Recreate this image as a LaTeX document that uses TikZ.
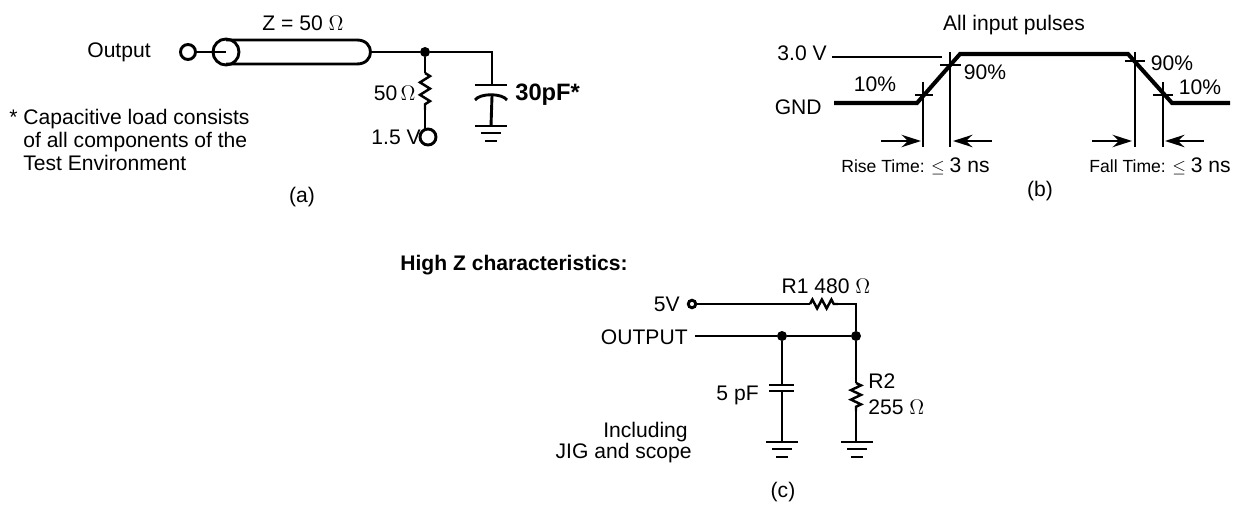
\documentclass[tikz,border=0pt]{standalone}
\usepackage{fontspec}
\setmainfont{Liberation Sans}
\usepackage{amsmath}
\usetikzlibrary{arrows.meta, decorations.pathmorphing}

\tikzset{
  wire/.style={line width=1.65pt},
  pulse/.style={line width=2.3pt},
  thin wire/.style={line width=1.1pt},
  dimarrow/.style={line width=1.5pt, -{Stealth[length=11pt, width=7pt]}},
  dot/.style={circle, fill=black, inner sep=0pt, minimum size=0.2cm},
  terminal/.style={circle, draw, line width=1.65pt, inner sep=0pt, minimum size=0.3cm},
  resistor/.style={line width=1.4pt, decorate, decoration={zigzag, segment length=#1, amplitude=0.1cm}},
  txt/.style={font=\fontsize{12pt}{14pt}\selectfont, inner sep=0pt}
}
\newcommand{\gnd}[1]{%
  \draw[wire] (#1) ++(-16,0) -- ++(32,0);
  \draw[wire] (#1) ++(-10,7) -- ++(20,0);
  \draw[wire] (#1) ++(-6,15) -- ++(12,0);
}

\begin{document}
\begin{tikzpicture}[x=0.02cm, y=-0.02cm]
\useasboundingbox (0,0) rectangle (1243,506);

% (a) output load
\node[terminal] (outa) at (188,52) {};
\node[terminal, minimum size=0.52cm] (cab) at (226,52) {};
\coordinate (cabt) at (226,40);
\coordinate (cabb) at (226,64);
\coordinate (cabtr) at (357,40);
\coordinate (cabbr) at (357,64);
\coordinate (cabr) at (370,52);
\node[dot] (ja) at (425,52) {};
\coordinate (ca) at (492,52);
\coordinate (rat) at (425,73);
\coordinate (rab) at (425,110);
\coordinate (vat) at (425,130);
\node[terminal, minimum size=0.32cm] (va) at (428,137) {};
\coordinate (pla) at (492,85);
\coordinate (plb) at (492,96);
\coordinate (ga) at (491,126);
\draw[wire] (outa) -- (cab.center);
\draw[wire] (cabt) -- (cabtr) .. controls (375,40) and (375,64) .. (cabbr) -- (cabb);
\draw[wire] (cabr) -- (ja) -- (ca) -- (pla);
\draw[wire] (ja) -- (rat);
\draw[resistor=0.25cm] (rat) -- (rab);
\draw[wire] (rab) -- (vat);
\draw[wire] (475,85) -- (507,85);
\draw[wire] (475,100) .. controls (480,93) and (502,93) .. (507,100);
\draw[wire] (plb) -- (ga);
\gnd{ga}
\node[txt] (outt) at (119,52) {Output};
\node[txt] (zt) at (303,23) {Z = 50 $\Omega$};
\node[txt, anchor=east] (rt) at (416,93) {50\,$\Omega$};
\node[txt, anchor=east] (vt) at (421,137) {1.5 V};
\node[txt, anchor=west, font=\fontsize{13.5pt}{15pt}\selectfont\bfseries] (ct) at (515,95) {30pF*};
\node[txt, anchor=west] (n1) at (9,119) {* Capacitive load consists};
\node[txt, anchor=west] (n2) at (23,142) {of all components of the};
\node[txt, anchor=west] (n3) at (23,163) {Test Environment};
\node[txt] (la) at (302,197) {(a)};

% (b) input pulses
\coordinate (p1) at (834,103);
\coordinate (p2) at (917,103);
\coordinate (p3) at (960,54);
\coordinate (p4) at (1128,54);
\coordinate (p5) at (1172,103);
\coordinate (p6) at (1230,103);
\coordinate (h1) at (832,57);
\coordinate (h2) at (942,57);
\draw[pulse] (p1) -- (p2) -- (p3) -- (p4) -- (p5) -- (p6);
\draw[wire] (h1) -- (h2);
\foreach \x/\ya/\name in {923/82/ra, 950/52/rb, 1135/52/fa, 1163/82/fb}{
  \coordinate (\name t) at (\x,\ya);
  \coordinate (\name b) at (\x,147);
  \draw[thin wire] (\name t) -- (\name b);
}
\draw[thin wire] (915,95) -- (933,95);
\draw[thin wire] (940,65) -- (961,65);
\draw[thin wire] (1125,61) -- (1145,61);
\draw[thin wire] (1153,95) -- (1173,95);
\coordinate (a1) at (881,141);
\coordinate (a2) at (921,141);
\coordinate (a3) at (992,141);
\coordinate (a4) at (953,141);
\coordinate (a5) at (1092,141);
\coordinate (a6) at (1132,141);
\coordinate (a7) at (1204,141);
\coordinate (a8) at (1165,141);
\draw[dimarrow] (a1) -- (a2);
\draw[dimarrow] (a3) -- (a4);
\draw[dimarrow] (a5) -- (a6);
\draw[dimarrow] (a7) -- (a8);
\node[txt] (ap) at (1014,25) {All input pulses};
\node[txt, anchor=east] (t3v) at (827,53) {3.0 V};
\node[txt, anchor=east] (tgnd) at (822,107) {GND};
\node[txt] (t10a) at (875,84) {10\%};
\node[txt] (t90a) at (985,72) {90\%};
\node[txt] (t90b) at (1172,63) {90\%};
\node[txt] (t10b) at (1200,87) {10\%};
\node[txt, anchor=west] (rise) at (841,166) {\fontsize{10pt}{12pt}\selectfont Rise Time: $\leq$ \fontsize{12pt}{14pt}\selectfont 3 ns};
\node[txt, anchor=west] (fall) at (1089,166) {\fontsize{10pt}{12pt}\selectfont Fall Time: $\leq$ \fontsize{12pt}{14pt}\selectfont 3 ns};
\node[txt] (lb) at (1040,191) {(b)};

% (c) high Z
\node[terminal, minimum size=0.15cm] (vc) at (692,304) {};
\coordinate (r1a) at (810,304);
\coordinate (r1b) at (838,304);
\coordinate (cr) at (856,304);
\coordinate (oc) at (695,336);
\node[dot] (jb) at (782,336) {};
\node[dot] (jc) at (856,336) {};
\coordinate (cta) at (782,385);
\coordinate (ctb) at (782,391);
\coordinate (gb) at (782,442);
\coordinate (r2a) at (856,383);
\coordinate (r2b) at (856,411);
\coordinate (r2c) at (856,442);
\coordinate (gc) at (857,442);
\draw[wire] (vc) -- (r1a);
\draw[resistor=0.19cm, decoration={amplitude=0.09cm}] (r1a) -- (r1b);
\draw[wire] (r1b) -- (cr) -- (jc);
\draw[wire] (oc) -- (jb) -- (jc);
\draw[wire] (jb) -- (cta);
\draw[wire] (769,385) -- (794,385);
\draw[wire] (769,391) -- (794,391);
\draw[wire] (ctb) -- (gb);
\draw[wire] (jc) -- (r2a);
\draw[resistor=0.19cm] (r2a) -- (r2b);
\draw[wire] (r2b) -- (r2c);
\gnd{gb}
\gnd{gc}
\node[txt, anchor=west, font=\bfseries\fontsize{12pt}{14pt}\selectfont] (hz) at (400,265) {High Z characteristics:};
\node[txt, anchor=east] (t5v) at (680,304) {5V};
\node[txt] (tr1) at (826,286) {R1 480 $\Omega$};
\node[txt, anchor=east] (tout) at (688,337) {OUTPUT};
\node[txt, anchor=east] (t5p) at (759,395) {5 pF};
\node[txt, anchor=west] (tr2) at (868,381) {R2};
\node[txt, anchor=west] (t255) at (868,407) {255 $\Omega$};
\node[txt, anchor=east] (inc) at (688,432) {Including};
\node[txt, anchor=east] (jig) at (692,453) {JIG and scope};
\node[txt] (lc) at (783,492) {(c)};
\end{tikzpicture}
\end{document}
